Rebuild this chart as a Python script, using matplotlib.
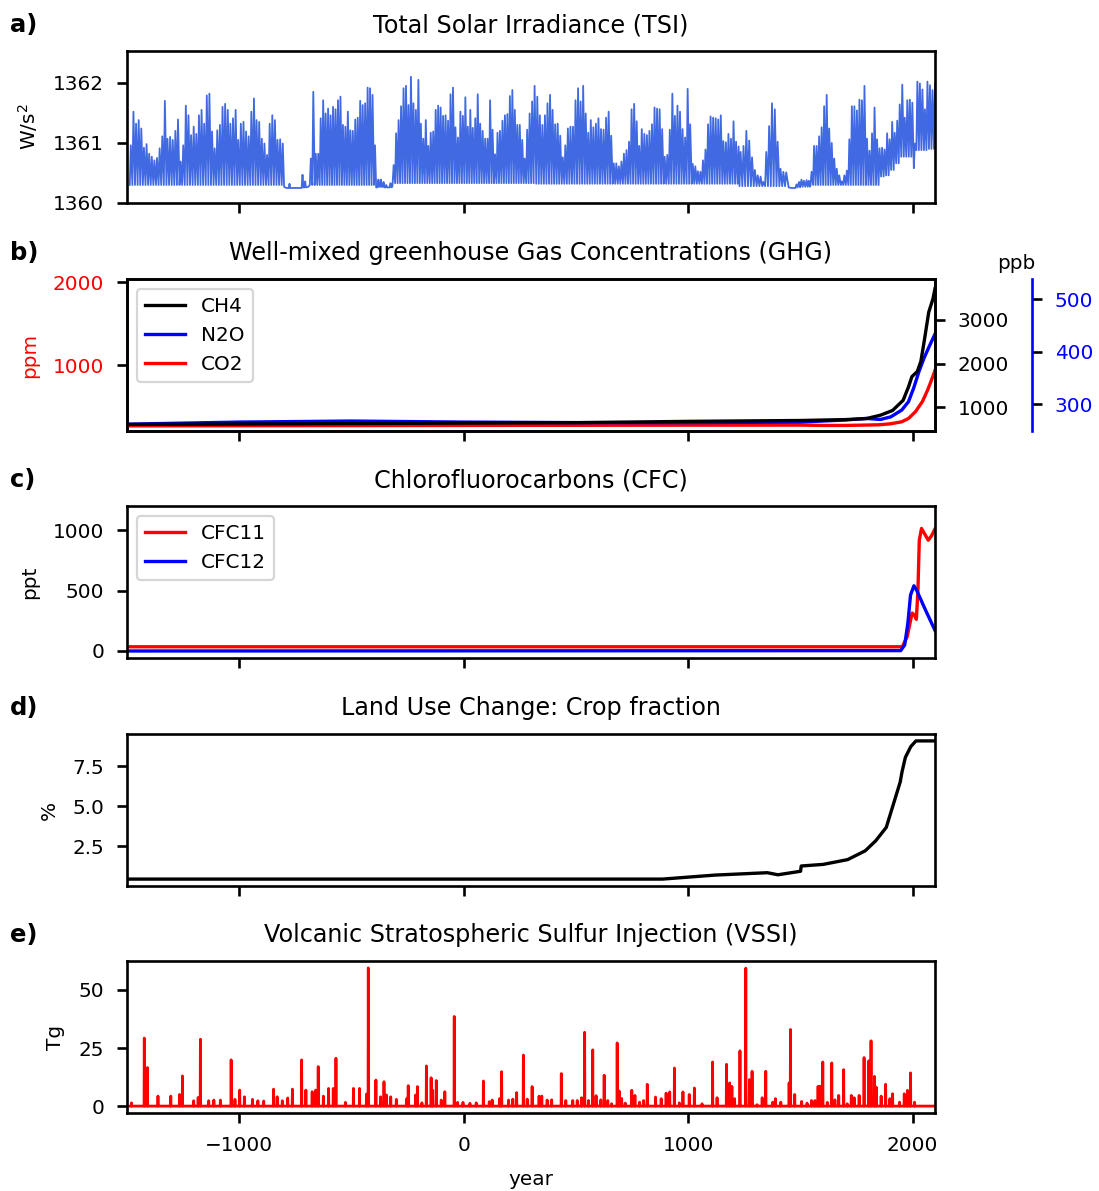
import numpy as np
import matplotlib.pyplot as plt

# ===============================
# Data
# ===============================

# --- a) TSI: solar-cycle maxima, W/m2 above 1360, segment by segment
TSI_BASE = 1360.0

TSI_SEG1_SPAN = (-1483, -806)
TSI_SEG1_PEAKS = [0.96, 1.52, 1.32, 1.38, 1.24, 0.92, 0.98, 0.82, 0.77, 0.71,
                  0.75, 0.91, 1.11, 1.70, 1.07, 1.10, 1.05, 1.20, 1.39, 0.69,
                  0.96, 1.62, 1.46, 1.13, 1.27, 1.15, 1.46, 1.55, 1.32, 1.79,
                  1.82, 1.19, 0.91, 1.21, 1.30, 1.60, 1.65, 1.55, 1.32, 1.41,
                  1.55, 1.05, 1.32, 1.35, 1.19, 1.11, 1.52, 1.74, 1.38, 1.35,
                  1.07, 0.99, 0.80, 1.32, 1.46, 1.38, 1.05, 1.06, 0.99]
TSI_SEG1_TROUGH = 0.30

TSI_MIN1_YEARS = [-800, -790, -779, -776, -773, -722, -718, -714, -709, -706, -703, -692]
TSI_MIN1_VALS = [0.27, 0.25, 0.25, 0.32, 0.25, 0.25, 0.47, 0.26, 0.26, 0.36, 0.26, 0.27]

TSI_SEG2_SPAN = (-681, -395)
TSI_SEG2_PEAKS = [0.74, 1.85, 0.82, 0.82, 1.41, 1.71, 1.49, 1.57, 1.46, 1.60,
                  1.56, 1.71, 1.77, 1.30, 1.27, 1.52, 1.21, 1.20, 1.39, 1.42,
                  1.70, 1.63, 1.66, 1.92, 1.91, 1.80, 0.96]
TSI_SEG2_TROUGH = 0.30

TSI_MIN2_YEARS = [-390, -384, -380, -376, -372, -369, -365, -360, -357, -353,
                  -348, -345, -341, -330, -326, -322, -318]
TSI_MIN2_VALS = [0.26, 0.26, 0.39, 0.27, 0.27, 0.39, 0.27, 0.27, 0.35, 0.26,
                 0.26, 0.30, 0.26, 0.26, 0.33, 0.26, 0.27]

TSI_SEG3_SPAN = (-312, 316)
TSI_SEG3_PEAKS = [0.63, 1.16, 1.38, 1.61, 1.91, 1.95, 1.63, 2.10, 1.66, 1.55,
                  2.05, 1.32, 1.07, 1.38, 0.95, 1.17, 1.19, 1.55, 1.62, 1.59,
                  1.45, 1.46, 1.37, 1.81, 1.92, 1.26, 1.09, 1.52, 1.45, 1.76,
                  1.27, 1.55, 1.25, 1.41, 1.81, 1.32, 1.20, 1.07, 1.07, 1.71,
                  1.22, 0.81, 1.17, 1.20, 1.37, 1.46, 1.48, 1.78, 1.88, 1.55,
                  1.30, 1.30, 1.05, 0.74, 1.22, 1.49, 1.69, 1.95]
TSI_SEG3_TROUGH = 0.33

TSI_SEG4_SPAN = (328, 1225)
TSI_SEG4_PEAKS = [1.77, 1.46, 1.30, 1.46, 1.66, 1.80, 1.55, 1.31, 1.32, 1.12,
                  0.76, 0.96, 1.24, 1.27, 1.27, 1.71, 1.91, 1.69, 1.95, 1.49,
                  1.17, 1.38, 1.26, 1.32, 1.41, 1.23, 1.22, 1.42, 1.52, 1.12,
                  0.66, 0.66, 0.61, 0.69, 0.82, 0.88, 1.02, 1.56, 1.65, 1.36,
                  0.95, 1.23, 1.15, 1.13, 1.20, 1.31, 1.59, 1.57, 1.56, 1.23,
                  0.77, 0.80, 1.22, 1.82, 1.45, 1.62, 1.52, 1.23, 1.09, 1.90,
                  1.31, 0.65, 0.61, 0.53, 0.52, 0.71, 0.89, 1.31, 1.44, 1.42,
                  1.41, 1.39, 1.46, 1.03, 1.01, 1.15, 1.07, 1.36, 1.02, 0.94]
TSI_SEG4_TROUGH = 0.32

TSI_SEG5_SPAN = (1234, 1437)
TSI_SEG5_PEAKS = [0.85, 0.95, 1.20, 1.04, 0.76, 0.55, 0.46, 0.44, 0.35, 0.85,
                  1.28, 1.66, 1.56, 1.02, 0.57, 0.52, 0.51]
TSI_SEG5_TROUGH = 0.28

TSI_MIN3_YEARS = [1448, 1460, 1478, 1483, 1488, 1494, 1499, 1505, 1510, 1516,
                  1522, 1528, 1533, 1538, 1543]
TSI_MIN3_VALS = [0.26, 0.25, 0.25, 0.31, 0.26, 0.35, 0.26, 0.39, 0.27, 0.37,
                 0.27, 0.38, 0.27, 0.37, 0.27]

TSI_SEG6_SPAN = (1550, 2100)
TSI_SEG6_PEAKS = [0.52, 0.95, 0.95, 1.11, 1.26, 1.61, 1.80, 1.24, 1.00, 0.74,
                  0.57, 0.46, 0.36, 0.46, 0.54, 1.06, 1.61, 1.61, 1.54, 1.72,
                  1.71, 1.95, 1.07, 0.87, 1.16, 1.59, 1.06, 0.91, 0.92, 0.89,
                  1.16, 1.06, 1.35, 1.17, 1.37, 1.64, 1.97, 1.42, 1.71, 1.72,
                  1.67, 0.99, 2.02, 1.99, 1.89, 1.56, 2.02, 1.96, 1.88, 1.99]
TSI_SEG6_TROUGHS = [0.30] * 28 + [0.44, 0.44, 0.46, 0.46, 0.55, 0.55, 0.66, 0.66,
                                  0.77, 0.77, 0.77, 0.77, 0.77, 0.58,
                                  0.88, 0.88, 0.88, 0.88, 0.88, 0.90, 0.90, 0.90]

# --- b) GHG
CO2_YEARS = [-1500, -500, 0, 1000, 1500, 1600, 1700, 1800, 1850, 1900, 1952,
             1982, 2013, 2044, 2068, 2091, 2100]
CO2_PPM = [272, 275, 277, 280, 281, 277, 277, 282, 285, 296, 321,
           361, 443, 565, 708, 870, 940]

CH4_YEARS = [-1500, -1000, -500, 0, 500, 1000, 1500, 1700, 1794, 1857, 1911,
             1958, 1982, 1997, 2021, 2037, 2052, 2072, 2091, 2100]
CH4_PPB = [610, 620, 630, 640, 650, 680, 700, 720, 743, 821, 929,
           1161, 1467, 1700, 1817, 2049, 2512, 3170, 3480, 3710]

N2O_YEARS = [-1500, -1000, -500, 0, 500, 1000, 1500, 1700, 1794, 1857, 1903,
             1952, 1982, 2005, 2029, 2052, 2075, 2100]
N2O_PPB = [262, 266, 268, 266, 265, 265, 266, 270, 273, 271, 276,
           289, 305, 331, 363, 389, 411, 434]

# --- c) CFC
CFC11_YEARS = [-1500, 1954, 1976, 1998, 2008, 2017, 2024, 2030, 2040, 2053, 2070, 2085, 2100]
CFC11_PPT = [35, 35, 118, 314, 298, 262, 504, 917, 1014, 972, 917, 955, 1010]
CFC12_YEARS = [-1500, 1947, 1965, 1979, 1991, 2006, 2018, 2051, 2100]
CFC12_PPT = [0, 3, 50, 229, 463, 540, 504, 366, 170]

# --- d) land use
LUC_YEARS = [-1500, 886, 1119, 1353, 1400, 1501, 1504, 1602, 1711, 1789, 1836,
             1883, 1945, 1953, 1968, 1992, 2015, 2100]
LUC_PCT = [0.45, 0.45, 0.70, 0.85, 0.72, 0.94, 1.27, 1.37, 1.67, 2.22, 2.85,
           3.69, 6.53, 7.16, 8.07, 8.74, 9.10, 9.10]

# --- e) VSSI eruptions (year, Tg)
VSSI_YEARS = [-1480, -1423, -1409, -1362, -1305, -1266, -1253, -1203, -1183, -1173,
              -1136, -1113, -1084, -1036, -1019, -998, -977, -941, -917, -891,
              -847, -831, -808, -784, -763, -722, -703, -675, -659, -648,
              -625, -602, -581, -569, -527, -491, -464, -433, -425, -391,
              -370, -355, -344, -325, -300, -253, -247, -214, -206, -186,
              -166, -145, -138, -122, -100, -84, -42, -27, -3, 28,
              56, 88, 114, 127, 161, 169, 200, 219, 236, 266,
              283, 305, 336, 348, 372, 392, 435, 455, 486, 506,
              525, 539, 556, 575, 590, 611, 626, 642, 659, 684,
              693, 704, 720, 749, 763, 784, 802, 818, 855, 880,
              902, 918, 939, 961, 977, 1005, 1028, 1062, 1109, 1129,
              1171, 1185, 1195, 1207, 1231, 1257, 1273, 1285, 1307, 1330,
              1346, 1377, 1389, 1413, 1450, 1456, 1475, 1506, 1530, 1550,
              1565, 1579, 1587, 1600, 1620, 1640, 1654, 1671, 1693, 1709,
              1727, 1740, 1762, 1784, 1805, 1815, 1830, 1838, 1860, 1880,
              1899, 1911, 1942, 1963, 1977, 1991, 2009]
VSSI_TG = [1.4, 29.3, 16.6, 4.3, 4.3, 5.0, 13.0, 2.3, 3.7, 28.8,
           2.3, 2.6, 2.6, 19.9, 2.9, 6.9, 4.0, 2.9, 2.3, 2.2,
           7.3, 4.0, 2.3, 3.5, 7.3, 19.9, 6.9, 6.2, 6.9, 17.0,
           4.3, 7.6, 7.6, 20.6, 1.6, 7.6, 7.6, 5.2, 59.5, 11.2,
           4.0, 10.5, 4.8, 4.0, 2.9, 3.3, 8.8, 4.8, 8.4, 1.4,
           17.3, 12.2, 6.9, 11.0, 2.6, 6.2, 38.6, 1.6, 1.6, 1.2,
           1.4, 10.8, 1.9, 2.6, 3.3, 14.8, 2.6, 3.0, 5.8, 22.0,
           3.0, 8.4, 4.3, 4.3, 2.6, 2.7, 14.0, 2.4, 2.4, 2.4,
           3.6, 31.8, 2.4, 24.2, 4.5, 2.7, 13.3, 2.4, 1.0, 27.2,
           6.5, 3.3, 1.3, 6.8, 4.6, 1.7, 2.4, 9.4, 3.9, 3.2,
           5.6, 6.1, 16.4, 1.4, 6.1, 5.0, 7.8, 1.0, 19.0, 3.6,
           18.0, 10.0, 8.5, 3.2, 23.8, 59.4, 11.4, 15.0, 0.6, 3.6,
           15.0, 1.7, 3.2, 1.7, 10.0, 33.0, 5.0, 2.0, 1.3, 2.4,
           2.4, 8.5, 8.6, 19.0, 1.6, 18.6, 2.7, 4.6, 15.7, 1.0,
           4.6, 3.6, 4.6, 20.9, 19.5, 28.1, 12.8, 8.2, 4.3, 9.4,
           3.2, 5.3, 1.7, 5.3, 6.8, 14.3, 1.7]

XTICKS = [-1000, 0, 1000, 2000]


# ===============================
# Build TSI and VSSI series
# ===============================

def cycles(span, peaks, trough):
    n = len(peaks)
    yrs = np.linspace(span[0], span[1], n)
    dt = (span[1] - span[0]) / (n - 1)
    tr = np.broadcast_to(np.asarray(trough, dtype=float), (n,))
    xs, vs = [], []
    for p, v, t in zip(yrs, peaks, tr):
        xs += [p - 0.4 * dt, p]
        vs += [t, v]
    return xs, vs


pieces = [
    cycles(TSI_SEG1_SPAN, TSI_SEG1_PEAKS, TSI_SEG1_TROUGH),
    (TSI_MIN1_YEARS, TSI_MIN1_VALS),
    cycles(TSI_SEG2_SPAN, TSI_SEG2_PEAKS, TSI_SEG2_TROUGH),
    (TSI_MIN2_YEARS, TSI_MIN2_VALS),
    cycles(TSI_SEG3_SPAN, TSI_SEG3_PEAKS, TSI_SEG3_TROUGH),
    cycles(TSI_SEG4_SPAN, TSI_SEG4_PEAKS, TSI_SEG4_TROUGH),
    cycles(TSI_SEG5_SPAN, TSI_SEG5_PEAKS, TSI_SEG5_TROUGH),
    (TSI_MIN3_YEARS, TSI_MIN3_VALS),
    cycles(TSI_SEG6_SPAN, TSI_SEG6_PEAKS, TSI_SEG6_TROUGHS),
]
tsi_x = np.concatenate([np.asarray(p[0], float) for p in pieces])
tsi_y = TSI_BASE + np.concatenate([np.asarray(p[1], float) for p in pieces])

vssi_x = np.arange(-1500, 2101)
vssi_y = np.zeros(len(vssi_x))
for yr, tg in zip(VSSI_YEARS, VSSI_TG):
    vssi_y[yr + 1500] = tg


# ===============================
# Figure
# ===============================

plt.rcParams.update({
    "font.size": 14.4,
    "axes.titlesize": 17.2,
    "axes.linewidth": 1.9,
    "xtick.major.size": 7.5,
    "ytick.major.size": 7.5,
    "xtick.major.width": 1.9,
    "ytick.major.width": 1.9,
    "xtick.major.pad": 9.0,
    "ytick.major.pad": 9.0,
    "axes.labelpad": 9.5,
    "legend.fontsize": 14.4,
})

fig = plt.figure(figsize=(10.99, 11.91), dpi=100)
W, H = 1099.0, 1191.0
left, width, height = 127 / W, 808 / W, 152 / H
bottoms_px = [203, 431, 658, 886, 1113]
axes = [fig.add_axes([left, 1 - b / H, width, height]) for b in bottoms_px]

LW = 2.4
titles = ["Total Solar Irradiance (TSI)",
          "Well-mixed greenhouse Gas Concentrations (GHG)",
          "Chlorofluorocarbons (CFC)",
          "Land Use Change: Crop fraction",
          "Volcanic Stratospheric Sulfur Injection (VSSI)"]
letters = ["a)", "b)", "c)", "d)", "e)"]

for ax, t, lab in zip(axes, titles, letters):
    ax.set_xlim(-1500, 2100)
    ax.set_xticks(XTICKS)
    ax.set_title(t, pad=13.5)
    ax.text(-0.1448, 1.125, lab, transform=ax.transAxes, fontsize=17.5,
            fontweight="bold", ha="left", va="baseline")
    if ax is not axes[-1]:
        ax.tick_params(axis="x", labelbottom=False)

# a) TSI
ax = axes[0]
ax.plot(tsi_x, tsi_y, color="royalblue", lw=1.3)
ax.set_ylim(1360, 1362.53)
ax.set_yticks([1360, 1361, 1362])
ax.set_ylabel("W/s$^2$")

# b) GHG
ax = axes[1]
l_co2, = ax.plot(CO2_YEARS, CO2_PPM, color="r", lw=LW)
ax.set_ylim(210, 2040)
ax.set_yticks([1000, 2000])
ax.tick_params(axis="y", labelcolor="r")
ax.set_ylabel("ppm", color="r")

ax_n2o = ax.twinx()
ax_n2o.spines["right"].set_position(("axes", 1.12))
ax_n2o.spines["right"].set_color("b")
for s in ["top", "left", "bottom"]:
    ax_n2o.spines[s].set_visible(False)
l_n2o, = ax_n2o.plot(N2O_YEARS, N2O_PPB, color="b", lw=LW)
ax_n2o.set_ylim(249, 539)
ax_n2o.set_yticks([300, 400, 500])
ax_n2o.tick_params(axis="y", labelcolor="b")

ax_ch4 = ax.twinx()
l_ch4, = ax_ch4.plot(CH4_YEARS, CH4_PPB, color="k", lw=LW)
ax_ch4.set_ylim(460, 3930)
ax_ch4.set_yticks([1000, 2000, 3000])
ax_ch4.text(1.10, 1.066, "ppb", transform=ax_ch4.transAxes, ha="center", va="baseline")
leg = ax_ch4.legend([l_ch4, l_n2o, l_co2], ["CH4", "N2O", "CO2"], loc="upper left")
leg.get_frame().set_linewidth(1.6)

# c) CFC
ax = axes[2]
ax.plot(CFC11_YEARS, CFC11_PPT, color="r", lw=LW, label="CFC11")
ax.plot(CFC12_YEARS, CFC12_PPT, color="b", lw=LW, label="CFC12")
ax.set_ylim(-58, 1200)
ax.set_yticks([0, 500, 1000])
ax.set_ylabel("ppt")
leg = ax.legend(loc="upper left")
leg.get_frame().set_linewidth(1.6)

# d) Land use
ax = axes[3]
ax.plot(LUC_YEARS, LUC_PCT, color="k", lw=LW)
ax.set_yticks([2.5, 5.0, 7.5])
ax.set_ylabel("%")

# e) VSSI
ax = axes[4]
ax.plot(vssi_x, vssi_y, color="r", lw=2.0)
ax.set_yticks([0, 25, 50])
ax.set_ylabel("Tg")
ax.set_xlabel("year", labelpad=11)
ax.set_xlim(-1500, 2100)

fig.savefig("out.png", dpi=100)
